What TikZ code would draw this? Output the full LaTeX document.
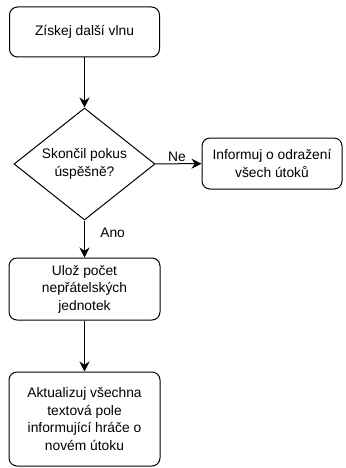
\documentclass[tikz,border=0pt]{standalone}
\usepackage{fontspec}
\setmainfont{Liberation Sans}
\usetikzlibrary{arrows.meta,shapes.geometric}

\begin{document}
\begin{tikzpicture}[x=1pt,y=-1pt,>={Stealth[length=10pt,width=10pt]},line width=1pt,font=\fontsize{13.8}{17.5}\selectfont]
\tikzstyle{stepbox}=[draw,rounded corners=8pt,align=center,inner sep=2pt]
\tikzstyle{decide}=[draw,diamond,aspect=1.26,minimum width=141pt,minimum height=112pt,inner sep=0pt,align=center]
\useasboundingbox (0,0) rectangle (345,468);
\node[stepbox,minimum width=150pt,minimum height=50pt] (wave) at (84.5,32) {Získej další vlnu};
\node[decide] (done) at (84.5,164) {Skončil pokus\\ úspěšně?};
\node[stepbox,minimum width=140pt,minimum height=51pt] (info) at (272,163.5) {Informuj o odražení\\ všech útoků};
\node[stepbox,minimum width=151pt,minimum height=62pt] (save) at (84.5,289) {Ulož počet\\ nepřátelských\\ jednotek};
\node[stepbox,minimum width=151pt,minimum height=94pt] (update) at (84.5,419) {Aktualizuj všechna\\ textová pole\\ informující hráče o\\ novém útoku};
\draw[->] (wave) -- (done);
\draw[->] (done) -- node[pos=0.47,above=-2pt]{Ne} (info);
\draw[->] (done) -- node[pos=0.32,right=12pt]{Ano} (save);
\draw[->] (save) -- (update);
\end{tikzpicture}
\end{document}
